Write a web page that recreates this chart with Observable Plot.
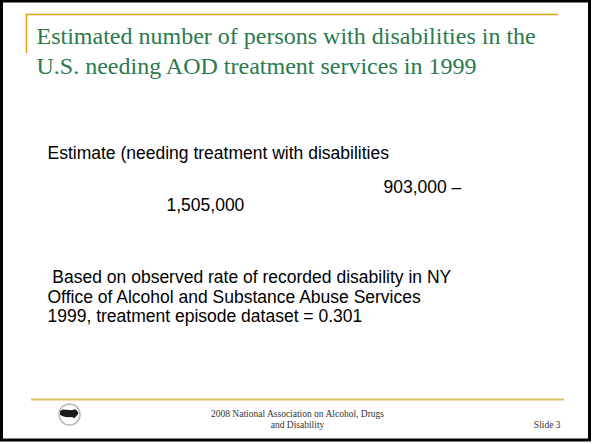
<!DOCTYPE html>
<html>
<head>
<meta charset="utf-8">
<script src="https://cdn.jsdelivr.net/npm/d3@7"></script>
<script src="https://cdn.jsdelivr.net/npm/@observablehq/plot@0.6"></script>
<style>
  html, body { margin: 0; padding: 0; background: #ffffff; }
</style>
</head>
<body>
<div id="chart"></div>
<script>
// ---- slide content ----
const titleLines = [
  "Estimated number of persons with disabilities in the",
  "U.S. needing AOD treatment services in 1999"
];
const estimateLabel = ["Estimate (needing treatment with disabilities"];
const estimateRange = ["903,000 \u2013", "1,505,000"];
const noteLines = [
  " Based on observed rate of recorded disability in NY",
  "Office of Alcohol and Substance Abuse Services",
  "1999, treatment episode dataset = 0.301"
];
const footerLines = ["2008 National Association on Alcohol, Drugs", "and Disability"];
const slideLabel = ["Slide 3"];

// ---- layout (slide pixel positions) ----
const W = 592, H = 444;
const titlePos = [{x: 36, y: 43}, {x: 36, y: 73}];
const estimateLabelPos = [{x: 47, y: 158}];
const estimateRangePos = [{x: 383, y: 192}, {x: 166, y: 210}];
const notePos = [{x: 47, y: 282.5}, {x: 47, y: 302}, {x: 47, y: 321.5}];
const footerPos = [{x: 297, y: 416}, {x: 297, y: 427}];
const slidePos = [{x: 560, y: 427}];
const frame = [{x1: 1.5, y1: 1, x2: 589.5, y2: 440}];
const topRule = [{x1: 26, x2: 558, y: 14}];
const topTick = [{x: 26, y1: 13.3, y2: 53}];
const footRule = [{x1: 31, x2: 564, y: 399}];
const logo = {cx: 69, cy: 414, r: 10.5};
// rough outline of the map glyph inside the logo, in logo-radius units
const mapTop = [[-0.85, -0.28], [-0.6, -0.42], [-0.3, -0.4], [0.0, -0.38], [0.3, -0.36], [0.5, -0.45], [0.7, -0.38], [0.88, -0.15]];
const mapBottom = [[-0.85, 0.08], [-0.6, 0.22], [-0.3, 0.28], [0.0, 0.3], [0.3, 0.28], [0.5, 0.4], [0.7, 0.2], [0.88, 0.0]];

const rows = (lines, pos) => lines.map((t, i) => ({t, x: pos[i].x, y: pos[i].y}));

const mapArea = mapTop.map((p, i) => ({
  x: logo.cx + p[0] * logo.r,
  y1: logo.cy + p[1] * logo.r,
  y2: logo.cy + mapBottom[i][1] * logo.r
}));

const serif = "'Liberation Serif', 'DejaVu Serif', serif";
const sans = "'Liberation Sans', Arial, sans-serif";
const bodySize = 17.5;

const plot = Plot.plot({
  width: W,
  height: H,
  margin: 0,
  x: {domain: [0, W], range: [0, W], axis: null},
  y: {domain: [0, H], range: [0, H], axis: null},
  style: {background: "white", overflow: "visible"},
  marks: [
    Plot.rect(frame, {x1: "x1", x2: "x2", y1: "y1", y2: "y2", fill: "none", stroke: "#000000", strokeWidth: 3}),
    Plot.ruleY(topRule, {x1: "x1", x2: "x2", y: "y", stroke: "#d6a21a", strokeWidth: 1.5}),
    Plot.ruleX(topTick, {x: "x", y1: "y1", y2: "y2", stroke: "#d6a21a", strokeWidth: 1.5}),
    Plot.ruleY(footRule, {x1: "x1", x2: "x2", y: "y", stroke: "#e3bf58", strokeWidth: 2}),
    Plot.text(rows(titleLines, titlePos), {x: "x", y: "y", text: "t", textAnchor: "start", lineAnchor: "bottom",
      fontFamily: serif, fontSize: 24, fill: "#2a7a4e"}),
    Plot.text(rows(estimateLabel, estimateLabelPos), {x: "x", y: "y", text: "t", textAnchor: "start", lineAnchor: "bottom",
      fontFamily: sans, fontSize: bodySize, fill: "#000000"}),
    Plot.text(rows(estimateRange, estimateRangePos), {x: "x", y: "y", text: "t", textAnchor: "start", lineAnchor: "bottom",
      fontFamily: sans, fontSize: bodySize, fill: "#000000"}),
    Plot.text(rows(noteLines, notePos), {x: "x", y: "y", text: "t", textAnchor: "start", lineAnchor: "bottom",
      fontFamily: sans, fontSize: bodySize, fill: "#000000"}),
    Plot.text(rows(footerLines, footerPos), {x: "x", y: "y", text: "t", textAnchor: "middle", lineAnchor: "bottom",
      fontFamily: serif, fontSize: 9.5, fill: "#333333"}),
    Plot.text(rows(slideLabel, slidePos), {x: "x", y: "y", text: "t", textAnchor: "end", lineAnchor: "bottom",
      fontFamily: serif, fontSize: 9.5, fill: "#333333"}),
    Plot.dot([logo], {x: "cx", y: "cy", r: logo.r, fill: "white", stroke: "#b8b8b8", strokeWidth: 1.5}),
    Plot.areaY(mapArea, {x: "x", y1: "y1", y2: "y2", fill: "#1a1a1a", curve: "linear"})
  ]
});
// keep leading space of the first note line
plot.querySelectorAll("text").forEach(t => t.setAttribute("xml:space", "preserve"));
plot.style.whiteSpace = "pre";
document.getElementById("chart").appendChild(plot);
</script>
</body>
</html>
